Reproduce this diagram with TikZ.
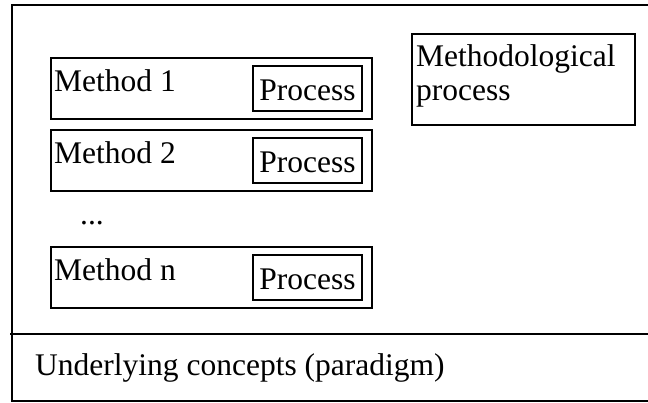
\documentclass[tikz,border=0pt]{standalone}
\usepackage{fontspec}
\setmainfont{Liberation Serif}
\begin{document}
\begin{tikzpicture}[x=1pt,y=-1pt,
  frame/.style={line width=2.2pt},
  box/.style={draw,line width=2.1pt,inner sep=0pt,anchor=north west},
  txt/.style={inner sep=0pt,anchor=base west,font=\fontsize{31.5}{35}\selectfont},
  proctxt/.style={inner sep=0pt,anchor=base,font=\fontsize{31.5}{35}\selectfont}]
\useasboundingbox (0,0) rectangle (648,403);

% outer frame, open to the right
\draw[frame] (648,5) -- (12,5) -- (12,401) -- (648,401);
\draw[frame] (10,334) -- (648,334);

% methods with their inner process boxes
\foreach \name/\lab/\top in {m1/Method 1/57, m2/Method 2/129, mn/Method n/246}{
  \node[box,minimum width=321pt,minimum height=61pt] (\name) at (50,\top) {};
  \node[txt] (\name-t) at ([xshift=4pt,yshift=-35pt]\name.north west) {\lab};
  \node[box,minimum width=109pt,minimum height=45pt] (\name-p) at (252,\top+8) {};
  \node[proctxt] (\name-pt) at ([yshift=-11.5pt]\name-p.center) {Process};
}

\node[txt] (dots) at (80,225) {...};

% methodological process
\node[box,minimum width=223pt,minimum height=91pt] (mp) at (411,33) {};
\node[txt] (mp-t1) at (416,67) {Methodological};
\node[txt] (mp-t2) at (416,101) {process};

% paradigm
\node[txt] (par) at (35,375) {Underlying concepts (paradigm)};
\end{tikzpicture}
\end{document}
